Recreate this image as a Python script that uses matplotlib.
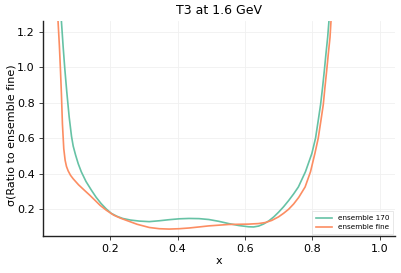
import matplotlib
matplotlib.use("Agg")
import matplotlib.pyplot as plt

# valeurs
x_170 = [0.052, 0.055, 0.060, 0.065, 0.071, 0.078, 0.085, 0.090, 0.097, 0.105, 0.114,
         0.128, 0.144, 0.158, 0.173, 0.188, 0.203, 0.220, 0.237, 0.260, 0.287, 0.316,
         0.346, 0.375, 0.405, 0.434, 0.464, 0.493, 0.522, 0.552, 0.582, 0.611, 0.626,
         0.641, 0.656, 0.671, 0.686, 0.700, 0.715, 0.730, 0.745, 0.759, 0.780, 0.799,
         0.810, 0.818, 0.825, 0.831, 0.836, 0.841, 0.846, 0.850, 0.854]
y_170 = [1.40, 1.26, 1.12, 0.993, 0.86, 0.72, 0.61, 0.555, 0.505, 0.455, 0.41,
         0.355, 0.306, 0.266, 0.230, 0.200, 0.175, 0.158, 0.146, 0.137, 0.131, 0.128,
         0.133, 0.139, 0.144, 0.146, 0.145, 0.140, 0.130, 0.117, 0.106, 0.099, 0.098,
         0.103, 0.115, 0.132, 0.155, 0.181, 0.212, 0.247, 0.285, 0.324, 0.410, 0.513,
         0.600, 0.700, 0.790, 0.889, 0.980, 1.078, 1.170, 1.266, 1.36]

x_fine = [0.043, 0.045, 0.049, 0.052, 0.055, 0.058, 0.062, 0.066, 0.070, 0.075, 0.082,
          0.090, 0.106, 0.124, 0.140, 0.154, 0.170, 0.188, 0.210, 0.230, 0.247, 0.280,
          0.316, 0.346, 0.375, 0.405, 0.434, 0.464, 0.493, 0.552, 0.611, 0.640, 0.661,
          0.680, 0.700, 0.715, 0.730, 0.745, 0.760, 0.779, 0.795, 0.808, 0.818, 0.826,
          0.833, 0.838, 0.843, 0.848, 0.853, 0.856, 0.860]
y_fine = [1.40, 1.26, 1.12, 0.993, 0.85, 0.68, 0.54, 0.475, 0.44, 0.415, 0.39,
          0.370, 0.336, 0.304, 0.276, 0.250, 0.220, 0.193, 0.165, 0.148, 0.136, 0.113,
          0.095, 0.088, 0.086, 0.088, 0.092, 0.098, 0.104, 0.112, 0.114, 0.117, 0.123,
          0.135, 0.155, 0.175, 0.198, 0.228, 0.265, 0.324, 0.410, 0.513, 0.600, 0.700,
          0.790, 0.889, 0.980, 1.078, 1.170, 1.266, 1.36]

fig = plt.figure(figsize=(4.01, 2.73), dpi=100)
ax = fig.add_axes([0.107, 0.135, 0.878, 0.788])

ax.plot(x_170, y_170, color="#66c2a5", lw=1.2, label="ensemble 170")
ax.plot(x_fine, y_fine, color="#fc8d62", lw=1.2, label="ensemble fine")

ax.set_xlim(0.0, 1.046)
ax.set_ylim(0.046, 1.262)
ax.set_xticks([0.2, 0.4, 0.6, 0.8, 1.0])
ax.set_yticks([0.2, 0.4, 0.6, 0.8, 1.0, 1.2])
ax.set_xticklabels(["0.2", "0.4", "0.6", "0.8", "1.0"])
ax.set_yticklabels(["0.2", "0.4", "0.6", "0.8", "1.0", "1.2"])
ax.tick_params(labelsize=8, length=3, width=0.6, pad=3, color="#222222")
ax.grid(True, color="#f0f0f0", lw=0.6)
ax.set_axisbelow(True)
for s in ["top", "right"]:
    ax.spines[s].set_visible(False)
for s in ["left", "bottom"]:
    ax.spines[s].set_color("#222222")
    ax.spines[s].set_linewidth(1.0)

ax.set_title("T3 at 1.6 GeV", fontsize=9, pad=5)
ax.set_xlabel("x", fontsize=8, labelpad=1)
ax.set_ylabel("σ(Ratio to ensemble fine)", fontsize=8)
ax.yaxis.set_label_coords(-0.075, 0.47)

leg = ax.legend(loc="lower right", fontsize=5.2, frameon=True, fancybox=False,
                borderpad=0.5, handlelength=2.2, handletextpad=0.8,
                labelspacing=0.45, borderaxespad=0.3)
leg.get_frame().set_edgecolor("#dddddd")
leg.get_frame().set_linewidth(0.6)

fig.savefig("out.png", dpi=100)
